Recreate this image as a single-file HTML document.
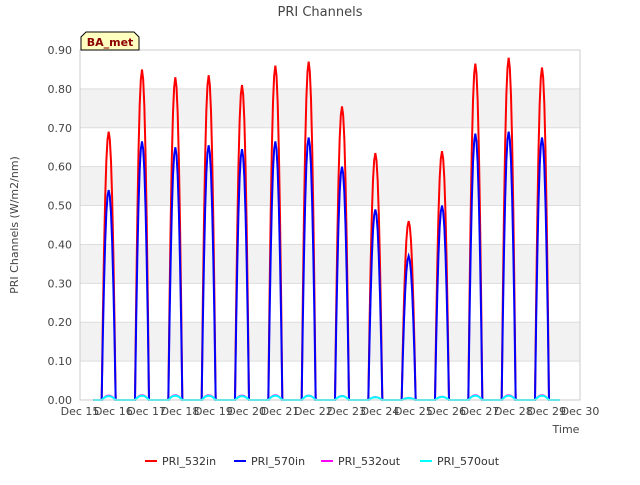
<!DOCTYPE html>
<html><head><meta charset="utf-8"><style>
body{margin:0;background:#fff;font-family:"Liberation Sans",sans-serif}
</style></head><body>
<svg id="c" width="640" height="480" xmlns="http://www.w3.org/2000/svg" font-family="DejaVu Sans, Liberation Sans, sans-serif">
<text x="320" y="16" text-anchor="middle" font-size="13" fill="#444">PRI Channels</text>
<g id="grid"></g>
<g id="series"></g>
<rect x="80" y="50" width="500" height="350" fill="none" stroke="#ccc"/>
<g id="axes"></g>
<text x="18" y="225" transform="rotate(-90 18 225)" text-anchor="middle" font-size="11" fill="#444">PRI Channels (W/m2/nm)</text>
<text x="566" y="433" text-anchor="middle" font-size="11" fill="#444">Time</text>
<g>
<path d="M81,50 L81,37 L86,32 L134,32 L139,37 L139,50 Z" fill="#ffffc0" stroke="#000"/>
<text x="110" y="46" text-anchor="middle" font-size="11" font-weight="bold" fill="#8b0000">BA_met</text>
</g>
<g id="legend"></g>
</svg>
<script>
const yTicks=["0.00","0.10","0.20","0.30","0.40","0.50","0.60","0.70","0.80","0.90"];
const xTicks=["Dec 15","Dec 16","Dec 17","Dec 18","Dec 19","Dec 20","Dec 21","Dec 22","Dec 23","Dec 24","Dec 25","Dec 26","Dec 27","Dec 28","Dec 29","Dec 30"];
const peak532in=[0.69,0.85,0.83,0.835,0.81,0.86,0.87,0.755,0.635,0.46,0.64,0.865,0.88,0.855];
const peak570in=[0.54,0.665,0.65,0.655,0.645,0.665,0.675,0.60,0.49,0.37,0.50,0.685,0.69,0.675];
const peak532out=[0.012,0.013,0.013,0.013,0.012,0.013,0.012,0.011,0.008,0.006,0.009,0.013,0.013,0.013];
const peak570out=[0.010,0.011,0.011,0.011,0.010,0.011,0.011,0.010,0.007,0.005,0.008,0.011,0.011,0.011];
const profile=[0,0.3,0.55,0.75,0.89,0.97,1,0.97,0.89,0.75,0.55,0.3,0];
const NS="http://www.w3.org/2000/svg";
const xS=d=>80+d*500/15, yS=v=>400-v*350/0.9;
function mk(t,a,p){const e=document.createElementNS(NS,t);for(const k in a)e.setAttribute(k,a[k]);p.appendChild(e);return e;}
const grid=document.getElementById('grid'),axes=document.getElementById('axes');
for(let i=0;i<9;i++){if(i%2===1){const b=mk('rect',{x:80,y:yS((i+1)*0.1),width:500,height:yS(i*0.1)-yS((i+1)*0.1),fill:'#f2f2f2'},grid);

}}
yTicks.forEach((t,i)=>{const l=mk('line',{x1:80,x2:580,y1:yS(i*0.1),y2:yS(i*0.1),stroke:'#ddd'},grid);


const tx=mk('text',{x:72,y:yS(i*0.1)+4,'text-anchor':'end','font-size':11,fill:'#444'},axes);tx.textContent=t;

});
xTicks.forEach((t,i)=>{const tx=mk('text',{x:xS(i),y:415,'text-anchor':'middle','font-size':11,fill:'#444'},axes);tx.textContent=t;

});
const ser=document.getElementById('series');
function draw(peaks,color,w,name){let pts=[[xS(0.4),yS(0)]];
peaks.forEach((p,k)=>{const c=k+0.86,s=c-0.21;
pts.push([xS(s),yS(0)]);
profile.forEach((f,j)=>pts.push([xS(s+0.42*j/(profile.length-1)),yS(p*f)]));});
pts.push([xS(14.4),yS(0)]);
const pl=mk('polyline',{points:pts.map(q=>q.join(',')).join(' '),fill:'none',stroke:color,'stroke-width':w},ser);

}
draw(peak532in,'#ff0000',2,'series-pri-532in');
draw(peak570in,'#0000ff',2,'series-pri-570in');
draw(peak532out,'#ff00ff',1.5,'series-pri-532out');
draw(peak570out,'#00ffff',2,'series-pri-570out');
const leg=document.getElementById('legend');
const L=[["PRI_532in","#ff0000",145],["PRI_570in","#0000ff",234],["PRI_532out","#ff00ff",321],["PRI_570out","#00ffff",420]];
L.forEach(([n,c,x])=>{const g=mk('g',{},leg);


mk('line',{x1:x,x2:x+12,y1:461,y2:461,stroke:c,'stroke-width':2},g);
const t=mk('text',{x:x+17,y:465,'font-size':11,fill:'#333'},g);t.textContent=n;});
</script>
</body></html>
